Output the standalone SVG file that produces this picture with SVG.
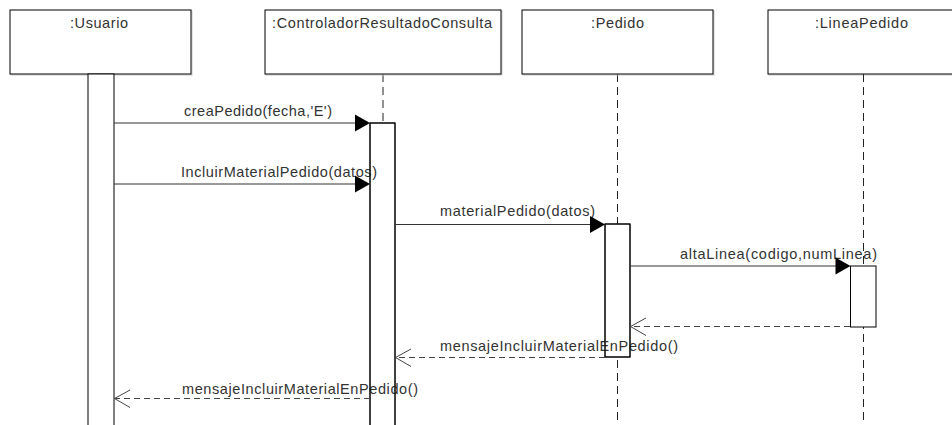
<svg xmlns="http://www.w3.org/2000/svg" width="952" height="425" viewBox="0 0 952 425">
  <style>
    .box { fill: #fff; stroke: #000; stroke-width: 1; }
    .shadow { fill: none; stroke: #c8c8c8; stroke-width: 1; }
    .life { stroke: #222; stroke-width: 1; stroke-dasharray: 8 5; fill: none; }
    .act { fill: #fff; stroke: #000; stroke-width: 1; }
    .edge { fill: none; stroke: #000; stroke-width: 1; }
    .msg { stroke: #333; stroke-width: 1; fill: none; }
    .ret { stroke: #444; stroke-width: 1; stroke-dasharray: 6 4; fill: none; }
    .open { stroke: #444; stroke-width: 1; fill: none; }
    .head { fill: #000; }
    text { font-family: "Liberation Sans", Arial, sans-serif; font-size: 14.5px; fill: #333; }
  </style>

  <!-- lifelines -->
  <g id="lifelines">
    <line class="life" x1="383" y1="74" x2="383" y2="425"/>
    <line class="life" x1="617.5" y1="74" x2="617.5" y2="425"/>
    <line class="life" x1="863.5" y1="74" x2="863.5" y2="425"/>
  </g>

  <g id="usuario">
    <rect class="shadow" x="11" y="11" width="181" height="64"/>
    <rect class="box" x="10" y="10" width="181" height="64"/>
    <text x="70" y="27.5" textLength="58" lengthAdjust="spacing">:Usuario</text>
    <rect class="act" x="88" y="74" width="26" height="360"/>
  </g>

  <g id="controlador">
    <rect class="shadow" x="266" y="11" width="236" height="64"/>
    <rect class="box" x="265" y="10" width="236" height="64"/>
    <text x="272" y="27.5" textLength="220" lengthAdjust="spacing">:ControladorResultadoConsulta</text>
    <rect class="act" x="370" y="123" width="25" height="310"/>
  </g>

  <g id="pedido">
    <rect class="shadow" x="523" y="11" width="191" height="64"/>
    <rect class="box" x="522" y="10" width="191" height="64"/>
    <text x="591" y="27.5" textLength="53" lengthAdjust="spacing">:Pedido</text>
    <rect class="act" x="605" y="224" width="25" height="133"/>
  </g>

  <g id="lineaPedido">
    <rect class="shadow" x="769" y="11" width="191" height="64"/>
    <rect class="box" x="768" y="10" width="191" height="64"/>
    <text x="815" y="27.5" textLength="93" lengthAdjust="spacing">:LineaPedido</text>
    <rect class="act" x="850.5" y="266" width="25.5" height="61"/>
  </g>

  <!-- message labels -->
  <g id="labels">
    <text x="184" y="115.5" textLength="148" lengthAdjust="spacing">creaPedido(fecha,'E')</text>
    <text x="181" y="176.5" textLength="196" lengthAdjust="spacing">IncluirMaterialPedido(datos)</text>
    <text x="440" y="215.5" textLength="155" lengthAdjust="spacing">materialPedido(datos)</text>
    <text x="680" y="258.5" textLength="197" lengthAdjust="spacing">altaLinea(codigo,numLinea)</text>
    <text x="440" y="350.5" textLength="238" lengthAdjust="spacing">mensajeIncluirMaterialEnPedido()</text>
    <text x="182" y="393.5" textLength="236" lengthAdjust="spacing">mensajeIncluirMaterialEnPedido()</text>
  </g>

  <!-- bar outlines and lifeline redrawn over the labels -->
  <g id="overlays">
    <line class="life" x1="863.5" y1="74" x2="863.5" y2="266"/>
    <rect class="edge" x="370" y="123" width="25" height="310"/>
    <rect class="edge" x="605" y="224" width="25" height="133"/>
  </g>

  <g id="connectors">
    <!-- creaPedido -->
    <line class="msg" x1="114" y1="123" x2="360" y2="123"/>
    <polygon class="head" points="370,123 355,114.5 355,131.5"/>
    <!-- IncluirMaterialPedido -->
    <line class="msg" x1="114" y1="184" x2="360" y2="184"/>
    <polygon class="head" points="370,184 355,175.5 355,192.5"/>
    <!-- materialPedido -->
    <line class="msg" x1="395" y1="224.5" x2="595" y2="224.5"/>
    <polygon class="head" points="605,224.5 590,216 590,233"/>
    <!-- altaLinea -->
    <line class="msg" x1="630" y1="266" x2="840" y2="266"/>
    <polygon class="head" points="850.5,266 835.5,257.5 835.5,274.5"/>
    <!-- return from LineaPedido -->
    <line class="ret" x1="850" y1="326.5" x2="631" y2="326.5"/>
    <polyline class="open" points="646,318 630.5,326.5 646,335.5"/>
    <!-- return from Pedido -->
    <line class="ret" x1="605" y1="357.5" x2="396" y2="357.5"/>
    <polyline class="open" points="411,349 395.5,357.5 411,366.5"/>
    <!-- return to Usuario -->
    <line class="ret" x1="370" y1="398.5" x2="115" y2="398.5"/>
    <polyline class="open" points="130,390 114.5,398.5 130,407.5"/>
  </g>
</svg>
